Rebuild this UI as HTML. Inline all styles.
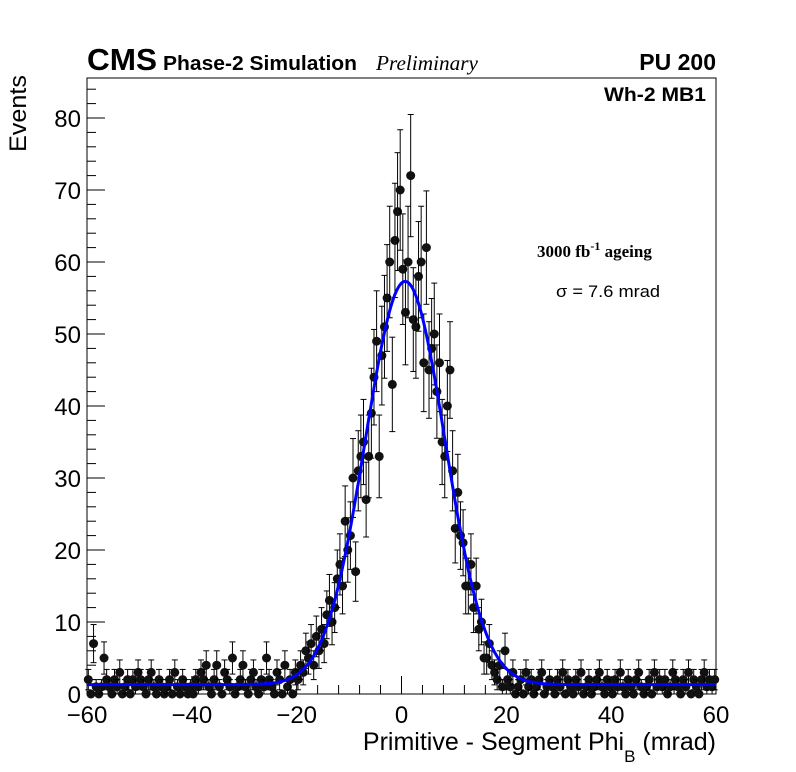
<!DOCTYPE html>
<html><head><meta charset="utf-8"><style>
body{margin:0;background:#fff;}
svg{display:block;font-family:"Liberation Sans",sans-serif;}
</style></head><body>
<svg id="c" width="796" height="772" viewBox="0 0 796 772"></svg>
<script>
const binLow=-60, binWidth=0.5;
const counts=[
2,0,7,1,0,1,5,2,1,0,2,1,3,0,1,2,0,2,1,3,
2,1,0,2,3,1,0,2,1,0,1,2,0,3,1,0,2,1,0,1,
0,2,1,3,2,4,1,0,2,4,1,0,3,2,1,5,0,1,2,4,
1,0,2,3,1,0,2,1,5,2,1,0,3,2,0,4,1,2,0,3,
2,4,3,6,5,7,4,8,6,9,7,11,13,10,12,16,18,15,24,20,
22,30,17,31,33,35,27,33,39,44,49,33,47,51,55,60,43,63,67,70,
59,53,60,72,52,51,58,60,46,62,45,48,50,42,46,35,33,40,45,31,
23,28,22,21,15,15,18,12,15,9,10,5,5,7,4,3,2,4,1,6,
2,1,3,0,1,2,0,3,1,2,0,1,2,3,0,1,2,1,0,2,
1,3,0,2,1,0,2,1,3,0,1,2,0,1,2,3,1,0,2,1,
0,2,1,3,1,0,2,1,0,2,3,1,0,1,2,0,3,1,2,1,
2,0,1,3,2,1,0,2,1,3,0,2,1,0,2,3,1,2,1,2];
const fitParams=[56,0.7,7.6,1.3]; // amplitude, mean, sigma, baseline
const xTicks=[-60,-40,-20,0,20,40,60];
const yTicks=[0,10,20,30,40,50,60,70,80];
const L=87,R=716,T=78,B=694;
const X=v=>L+(v+60)/120*(R-L);
const Y=v=>B-v*7.2;
const svg=document.getElementById('c');
const NS='http://www.w3.org/2000/svg';
function mk(t,a,p){const e=document.createElementNS(NS,t);for(const k in a)e.setAttribute(k,a[k]);(p||svg).appendChild(e);return e;}
let e;
e=mk('rect',{x:L,y:T,width:R-L,height:B-T,fill:'none',stroke:'#000','stroke-width':1});


for(let v=-60;v<=60;v+=4){const big=v%20===0;mk('line',{x1:X(v),x2:X(v),y1:B,y2:B-(big?18:9),stroke:'#000'});}
for(let v=0;v<=85;v+=2){const big=v%10===0;mk('line',{x1:L,x2:L+(big?18:9),y1:Y(v),y2:Y(v),stroke:'#000'});}
const xl=mk('g',{});
xTicks.forEach(v=>{const t=mk('text',{x:X(v),y:723,'font-size':24,'text-anchor':'middle'},xl);t.textContent=v<0?'\u2212'+(-v):v;});
const yl=mk('g',{});
yTicks.forEach(v=>{const t=mk('text',{x:81,y:Y(v)+9,'font-size':24,'text-anchor':'end'},yl);t.textContent=v;});
const pts=mk('g',{});
counts.forEach((c,i)=>{const xc=binLow+(i+0.5)*binWidth;const px=X(xc);const err=Math.sqrt(c);
 if(c>0){mk('line',{x1:px,x2:px,y1:Y(c+err),y2:Y(Math.max(0,c-err)),stroke:'#000'},pts);
 mk('line',{x1:px-3,x2:px+3,y1:Y(c+err),y2:Y(c+err),stroke:'#000'},pts);
 mk('line',{x1:px-3,x2:px+3,y1:Y(Math.max(0,c-err)),y2:Y(Math.max(0,c-err)),stroke:'#000'},pts);}
 mk('circle',{cx:px,cy:Y(c),r:4.5,fill:'#111'},pts);});
const [A,mu,sg,b0]=fitParams;let d='';
for(let x=-60;x<=60.01;x+=0.25){const y=b0+A*Math.exp(-(x-mu)*(x-mu)/(2*sg*sg));d+=(d?'L':'M')+X(x).toFixed(1)+','+Y(y).toFixed(1);}
e=mk('path',{d:d,fill:'none',stroke:'#0000ff','stroke-width':3});


</script>
<svg style="position:absolute;left:0;top:0" width="796" height="772">
<text x="87" y="70" font-family="Liberation Sans,sans-serif" font-weight="bold" font-size="31" textLength="70" lengthAdjust="spacingAndGlyphs">CMS</text>
<text x="163" y="70" font-family="Liberation Sans,sans-serif" font-weight="bold" font-size="20" textLength="194" lengthAdjust="spacingAndGlyphs">Phase-2 Simulation</text>
<text x="376" y="70" font-family="Liberation Serif,serif" font-style="italic" font-size="21" textLength="102" lengthAdjust="spacingAndGlyphs">Preliminary</text>
<text x="716" y="70" text-anchor="end" font-family="Liberation Sans,sans-serif" font-weight="bold" font-size="23">PU 200</text>
<text x="706" y="101" text-anchor="end" font-family="Liberation Sans,sans-serif" font-weight="bold" font-size="19" textLength="102" lengthAdjust="spacingAndGlyphs">Wh-2 MB1</text>
<text x="537" y="257" font-family="Liberation Serif,serif" font-weight="bold" font-size="17">3000 fb<tspan dy="-7" font-size="12">-1</tspan><tspan dy="7"> ageing</tspan></text>
<text x="556" y="297" font-family="Liberation Sans,sans-serif" font-size="17" textLength="104" lengthAdjust="spacingAndGlyphs">σ = 7.6 mrad</text>
<text x="716" y="750" text-anchor="end" font-family="Liberation Sans,sans-serif" font-size="25">Primitive - Segment Phi<tspan dy="12" font-size="17">B</tspan><tspan dy="-12"> (mrad)</tspan></text>
<text transform="translate(26,152) rotate(-90)" font-family="Liberation Sans,sans-serif" font-size="24" textLength="77" lengthAdjust="spacingAndGlyphs">Events</text>
</svg>
</body></html>
